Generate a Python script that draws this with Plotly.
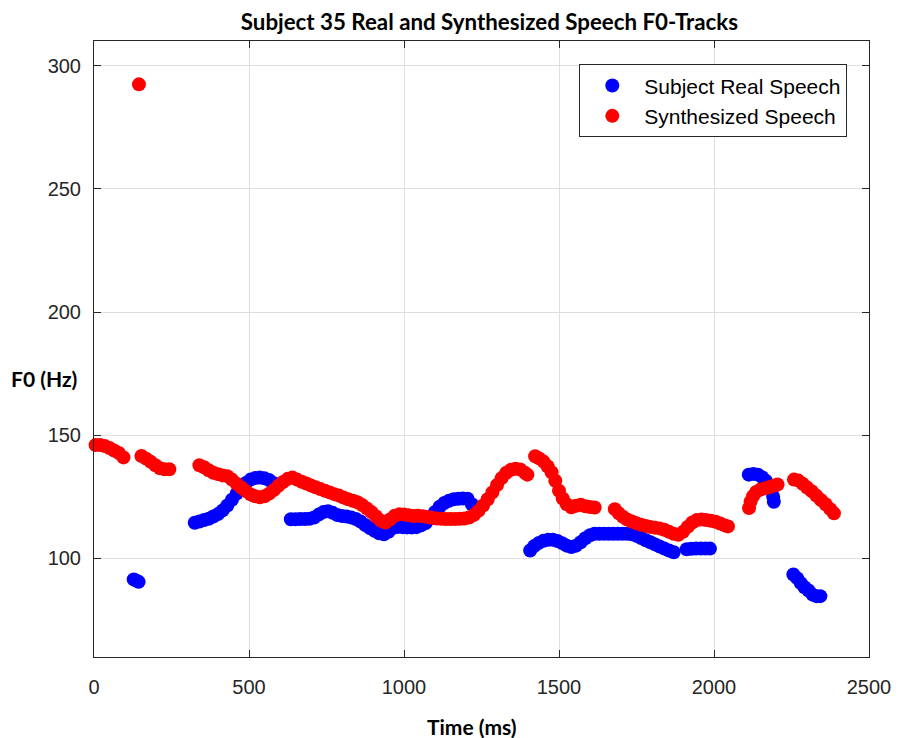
import plotly.graph_objects as go

# F0 tracks (time in ms, fundamental frequency in Hz)
real_t = [128, 136, 144,
          325, 340, 355, 370, 385, 400, 415, 430, 445, 460, 475, 490, 505, 520, 535, 550, 565, 580,
          635, 650, 665, 680, 695, 710, 725, 740, 755, 770, 785, 800, 815, 830, 845, 860, 875, 890,
          905, 920, 935, 950, 965, 980, 995, 1010, 1025, 1040, 1055, 1070, 1085, 1100, 1115, 1130,
          1145, 1160, 1175, 1190, 1205, 1219,
          1407, 1420, 1435, 1450, 1465, 1480, 1495, 1510, 1525, 1540, 1555, 1570, 1585, 1600, 1615,
          1630, 1645, 1660, 1675, 1690, 1705, 1720, 1735, 1750, 1765, 1780, 1795, 1810, 1825, 1840,
          1855, 1870,
          1912, 1927, 1942, 1957, 1972, 1987,
          2112, 2127, 2142, 2155, 2167, 2178, 2186, 2191, 2193,
          2256, 2268, 2280, 2292, 2305, 2318, 2330, 2343]
real_f = [91.5, 91.0, 90.5,
          114.5, 115.0, 115.6, 116.1, 117.0, 118.0, 119.5, 121.5, 123.8, 126.3, 128.7, 130.6, 132.0,
          132.6, 132.8, 132.5, 131.8, 130.5,
          115.9, 115.9, 116.0, 116.0, 116.1, 116.6, 117.8, 118.8, 119.2, 118.5, 117.6, 117.2, 117.0,
          116.6, 116.0, 115.0, 113.6, 112.3, 111.2, 110.2, 109.8, 110.8, 112.4, 112.8, 112.7, 112.6,
          112.6, 112.7, 113.4, 114.4, 116.3, 118.8, 121.0, 122.5, 123.4, 124.0, 124.2, 124.3, 124.2,
          122.0,
          103.2, 105.0, 106.3, 107.2, 107.6, 107.6, 107.1, 106.2, 105.2, 104.6, 105.2, 106.6, 108.2,
          109.4, 110.0, 110.0, 110.0, 110.0, 110.0, 110.0, 110.0, 110.0, 109.8, 109.2, 108.3, 107.4,
          106.6, 105.7, 104.8, 104.0, 103.2, 102.5,
          103.7, 103.9, 104.0, 104.0, 104.0, 104.0,
          134.0, 134.3, 134.0, 133.0, 131.5, 129.5, 127.5, 125.0, 123.0,
          93.5, 92.0, 90.0, 88.3, 87.0, 85.3, 84.7, 84.7]

synth_t = [5, 20, 35, 50, 65, 80, 95,
           145,
           153, 168, 183, 198, 213, 228, 243,
           340, 355, 370, 385, 400, 415, 430, 445, 460, 475, 490, 505, 520, 535, 550, 565, 580, 595,
           610, 625, 640, 655, 670, 685, 700, 715, 730, 745, 760, 775, 790, 805, 820, 835, 850, 865,
           880, 895, 910, 925, 940, 955, 970, 985, 1000, 1015, 1030, 1045, 1060, 1075, 1090, 1105,
           1120, 1135, 1150, 1165, 1180, 1195, 1210, 1225, 1240, 1255, 1270, 1285, 1300, 1315, 1330,
           1345, 1360, 1375, 1390, 1398,
           1423, 1436, 1450, 1463, 1476, 1488, 1500, 1512, 1525, 1540, 1555, 1570, 1585, 1600, 1615,
           1680, 1693, 1706, 1720, 1735, 1750, 1765, 1780, 1795, 1810, 1825, 1840, 1855, 1870, 1885,
           1900, 1915, 1930, 1945, 1960, 1975, 1990, 2005, 2020, 2035, 2045,
           2113, 2118, 2126, 2136, 2150, 2165, 2180, 2195, 2205,
           2258, 2272, 2286, 2300, 2315, 2330, 2345, 2360, 2375, 2387]
synth_f = [146.0, 146.0, 145.6, 144.8, 143.8, 142.8, 141.0,
           292.4,
           141.6, 140.5, 139.2, 137.8, 136.6, 136.2, 136.2,
           137.8, 137.0, 135.8, 134.8, 134.2, 133.7, 133.4, 132.0, 130.3, 128.8, 127.3, 126.0, 125.2,
           124.8, 125.2, 126.3, 127.8, 129.5, 131.0, 132.3, 132.8, 132.0, 131.1, 130.4, 129.6, 128.9,
           128.2, 127.5, 126.8, 126.1, 125.5, 124.7, 124.0, 123.4, 122.8, 121.7, 120.3, 118.8, 117.0,
           115.3, 114.6, 115.8, 117.3, 117.9, 117.8, 117.5, 117.2, 117.3, 117.1, 116.8, 116.5, 116.2,
           116.1, 116.0, 116.0, 116.0, 116.1, 116.2, 116.6, 117.6, 119.3, 121.5, 124.0, 126.8, 129.8,
           132.6, 134.8, 136.0, 136.4, 136.1, 134.8, 134.0,
           141.5, 140.6, 139.3, 137.4, 135.0, 131.5, 127.5, 124.3, 122.0, 120.8, 121.4, 121.8, 121.2,
           120.9, 120.7,
           120.0, 118.3, 116.9, 115.8, 115.0, 114.3, 113.7, 113.2, 112.8, 112.5, 112.2, 111.6, 110.8,
           110.0, 109.6, 110.8, 112.8, 114.6, 115.6, 115.8, 115.6, 115.3, 114.9, 114.2, 113.4, 113.0,
           120.5, 123.0, 125.3, 127.0, 128.0, 128.5, 129.0, 129.6, 130.0,
           132.0, 131.6, 130.3, 128.8, 127.3, 125.5, 123.7, 122.0, 120.0, 118.3]

x_ticks = [0, 500, 1000, 1500, 2000, 2500]
y_ticks = [100, 150, 200, 250, 300]

AXIS_COLOR = "#262626"
GRID_COLOR = "#dedede"
TICK_FONT = dict(family="Liberation Sans, Arial, sans-serif", size=20, color=AXIS_COLOR)
LABEL_FONT = dict(family="Lato, sans-serif", size=21, color="#000000")

fig = go.Figure()
fig.add_trace(go.Scatter(
    x=real_t, y=real_f, mode="markers", name="Subject Real Speech",
    legendgroup="real", cliponaxis=False,
    marker=dict(color="#0000ff", size=14, line=dict(width=0)),
))
fig.add_trace(go.Scatter(
    x=synth_t, y=synth_f, mode="markers", name="Synthesized Speech",
    legendgroup="synth", cliponaxis=False,
    marker=dict(color="#ff0000", size=14, line=dict(width=0)),
))

axis_common = dict(
    showline=True, linecolor=AXIS_COLOR, linewidth=1, mirror="ticks",
    ticks="inside", ticklen=7, tickcolor=AXIS_COLOR, tickwidth=1,
    showgrid=True, gridcolor=GRID_COLOR, gridwidth=1,
    zeroline=False, tickfont=TICK_FONT,
)

fig.update_xaxes(range=[0, 2500], tickvals=x_ticks, ticklabelstandoff=12, **axis_common)
fig.update_yaxes(range=[60, 310], tickvals=y_ticks, ticklabelstandoff=8, **axis_common)

fig.update_layout(
    width=903, height=738,
    margin=dict(l=94, r=29, t=41, b=81),
    paper_bgcolor="white", plot_bgcolor="white",
    title=dict(
        text="<b>Subject 35 Real and Synthesized Speech F0-Tracks</b>",
        x=0.542, xanchor="center", y=0.970, yanchor="middle",
        font=dict(family="Lato, sans-serif", size=22.3, color="#000000"),
    ),
    legend=dict(
        x=0.972, xanchor="right", y=0.962, yanchor="top",
        bgcolor="white", bordercolor=AXIS_COLOR, borderwidth=1,
        font=dict(family="Liberation Sans, Arial, sans-serif", size=21, color="#000000"),
        tracegroupgap=0, itemwidth=54,
    ),
    showlegend=True,
    annotations=[
        dict(text="<b>F0 (Hz)</b>", xref="paper", yref="paper",
             x=-0.1103, xanchor="left", y=(657 - 378) / 616, yanchor="middle",
             showarrow=False, font=LABEL_FONT),
        dict(text="<b>Time (ms)</b>", xref="paper", yref="paper",
             x=(474 - 94) / 780, xanchor="center", y=-(727 - 657) / 616, yanchor="middle",
             showarrow=False, font=LABEL_FONT),
    ],
)

fig.write_html("out.html")
